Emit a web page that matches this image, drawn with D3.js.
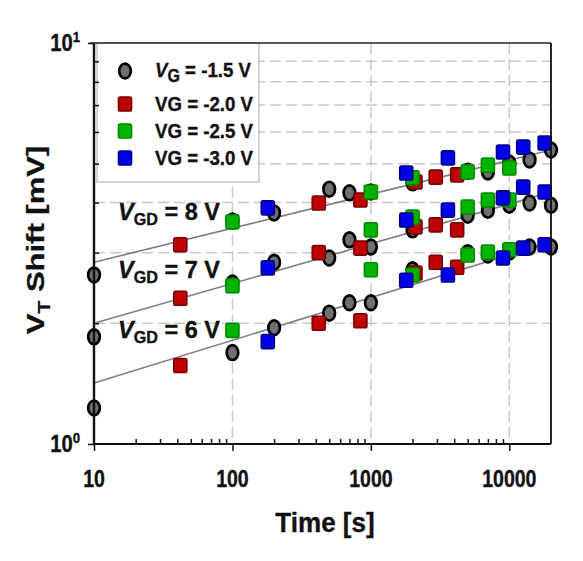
<!DOCTYPE html>
<html><head><meta charset="utf-8">
<script src="https://cdn.jsdelivr.net/npm/d3@7"></script>
<style>
body{margin:0;background:#fff}
svg{display:block}
text{font-family:"Liberation Sans",Arial,sans-serif;font-weight:bold;fill:#111;stroke:#111;stroke-width:0.35px}
</style>
</head><body>
<svg id="c" width="583" height="561"></svg>
<script>
// ---- data ----
const xTicks = [10, 100, 1000, 10000];
const xTickLabels = ["10", "100", "1000", "10000"];
const yTicks = [1, 10];
const yTickExps = ["0", "1"];
const xMinor = [20,30,40,50,60,70,80,90,200,300,400,500,600,700,800,900,2000,3000,4000,5000,6000,7000,8000,9000];
const yMinor = [2,3,4,5,6,7,8,9];
const gdLevels = ["8", "7", "6"];

const seriesNames = ["-1.5", "-2.0", "-2.5", "-3.0"];

const grayTimes = [10, 100, 200, 500, 700, 1000, 2000, 5000, 7000, 10000, 14000, 20000];
const gray8 = [2.64, 3.60, 3.77, 4.32, 4.23, 4.25, 4.48, 4.79, 4.77, 5.02, 5.11, 5.41];
const gray7 = [1.85, 2.52, 2.84, 2.91, 3.23, 3.10, 3.42, 3.72, 3.83, 3.94, 3.99, 3.94];
const gray6 = [1.23, 1.69, 1.95, 2.12, 2.25, 2.25, 2.72, 3.00, 2.96, 3.01, 3.10, 3.10];

const redTimes = [42, 420, 840, 2100, 2940, 4200];
const red8 = [3.14, 3.99, 4.06, 4.50, 4.63, 4.69];
const red7 = [2.31, 3.00, 3.08, 3.48, 3.52, 3.42];
const red6 = [1.57, 2.00, 2.03, 2.67, 2.84, 2.76];

const greenTimes = [100, 1000, 2000, 5000, 7000, 10000];
const green8 = [3.58, 4.25, 4.61, 4.77, 4.96, 4.88];
const green7 = [2.48, 3.42, 3.68, 3.90, 4.06, 4.06];
const green6 = [1.92, 2.72, 2.64, 2.96, 3.01, 3.05];

const blueTimes = [180, 1800, 3600, 9000, 12600, 18000];
const blue8 = [3.88, 4.74, 5.17, 5.35, 5.50, 5.63];
const blue7 = [2.75, 3.62, 3.83, 4.11, 4.37, 4.25];
const blue6 = [1.80, 2.56, 2.64, 2.91, 3.08, 3.14];

const fitTimes = [10, 20000];
const fit8 = [2.84, 5.41];
const fit7 = [2.00, 4.25];
const fit6 = [1.42, 3.19];

// ---- build ----
const svg = d3.select("#c");
const L = 94, R = 551, T = 43, B = 444;
const x = d3.scaleLog().domain([10, 20000]).range([L, R]);
const y = d3.scaleLog().domain([1, 10]).range([B, T]);

const styles = [
  {shape:"circle", fill:"#6f6f6f", stroke:"#000"},
  {shape:"square", fill:"#c00000", stroke:"#7a0000"},
  {shape:"square", fill:"#00b400", stroke:"#008a00"},
  {shape:"square", fill:"#0000e6", stroke:"#00008a"}
];
const seriesData = [
  {times: grayTimes, vals: [gray8, gray7, gray6]},
  {times: redTimes, vals: [red8, red7, red6]},
  {times: greenTimes, vals: [green8, green7, green6]},
  {times: blueTimes, vals: [blue8, blue7, blue6]}
];

// grid
const grid = svg.append("g").attr("stroke", "#c8c8c8").attr("stroke-width", 1.5).attr("stroke-dasharray", "11,5");
grid.selectAll("line.v").data(xTicks.slice(1)).join("line")
  .attr("x1", d => x(d)).attr("x2", d => x(d)).attr("y1", T).attr("y2", B);
grid.selectAll("line.h").data(yMinor).join("line")
  .attr("x1", L).attr("x2", R).attr("y1", d => y(d)).attr("y2", d => y(d));

// fit lines
const fits = [fit8, fit7, fit6];
const lineGen = d3.line().x((d, i) => x(fitTimes[i])).y(d => y(d));
svg.append("g").selectAll("path").data(fits).join("path")
  .attr("d", d => lineGen(d)).attr("fill", "none").attr("stroke", "#7f7f7f").attr("stroke-width", 1.6);

// legend box
svg.append("rect").attr("x", 97).attr("y", T).attr("width", 162).attr("height", 139)
  .attr("fill", "#fff").attr("stroke", "#a8a8a8").attr("stroke-width", 1);

function marker(g, st, cx, cy) {
  if (st.shape === "circle") {
    g.append("ellipse").attr("cx", cx).attr("cy", cy).attr("rx", 5.8).attr("ry", 7.4)
      .attr("fill", st.fill).attr("stroke", st.stroke).attr("stroke-width", 2.7);
  } else {
    g.append("rect").attr("x", cx - 6.5).attr("y", cy - 7).attr("width", 13).attr("height", 14)
      .attr("rx", 1.8).attr("fill", st.fill).attr("stroke", st.stroke).attr("stroke-width", 1.6);
  }
}

// data markers
const mg = svg.append("g");
seriesData.forEach((s, si) => {
  s.vals.forEach(arr => {
    arr.forEach((v, i) => marker(mg, styles[si], x(s.times[i]), y(v)));
  });
});

// axes
const ax = svg.append("g");
const xMaj = d3.axisBottom(x).tickValues(xTicks).tickSize(7).tickFormat("");
const xMin = d3.axisBottom(x).tickValues(xMinor).tickSize(-5).tickFormat("");
const yMaj = d3.axisLeft(y).tickValues(yTicks).tickSize(6).tickFormat("");
const yMin = d3.axisLeft(y).tickValues(yMinor).tickSize(-5).tickFormat("");
[ [xMaj, `translate(0,${B})`], [xMin, `translate(0,${B})`], [yMaj, `translate(${L},0)`], [yMin, `translate(${L},0)`] ]
  .forEach(([a, tr]) => {
    const g = ax.append("g").attr("transform", tr).call(a);
    g.select(".domain").remove();
    g.selectAll("line").attr("stroke", "#111").attr("stroke-width", 1.5);
  });
// frame
svg.append("line").attr("x1", L).attr("x2", R).attr("y1", B).attr("y2", B).attr("stroke", "#111").attr("stroke-width", 2.2);
svg.append("line").attr("x1", L).attr("x2", L).attr("y1", T).attr("y2", B).attr("stroke", "#111").attr("stroke-width", 2.4);
svg.append("line").attr("x1", L - 4).attr("x2", R).attr("y1", T).attr("y2", T).attr("stroke", "#222").attr("stroke-width", 1.6);
svg.append("line").attr("x1", R).attr("x2", R).attr("y1", T).attr("y2", B).attr("stroke", "#111").attr("stroke-width", 1.8);

function stext(px, py, sx, anchor, size) {
  return svg.append("text").attr("transform", `translate(${px},${py}) scale(${sx},1)`)
    .attr("text-anchor", anchor).attr("font-size", size);
}

// x tick labels
xTicks.forEach((t, i) => stext(x(t), 487, 0.85, "middle", 23).text(xTickLabels[i]));
// y tick labels
yTicks.forEach((t, i) => {
  const tx = stext(80, y(t) + 8, 0.88, "end", 23);
  tx.append("tspan").text("10");
  tx.append("tspan").attr("font-size", 15).attr("dy", -9).text(yTickExps[i]);
});

// axis titles
stext(325, 532, 0.93, "middle", 28).text("Time [s]");
const yl = svg.append("text").attr("transform", "translate(44,240) scale(0.8,1) rotate(-90)")
  .attr("text-anchor", "middle").attr("font-size", 31);
yl.append("tspan").text("V");
yl.append("tspan").attr("font-size", 21).attr("dy", 7).text("T");
yl.append("tspan").attr("dy", -7).text(" Shift [mV]");

// legend entries
const legY = [71, 104, 131, 158];
const legBase = [77, 111, 138, 165];
seriesNames.forEach((n, i) => {
  marker(svg, styles[i], 125, legY[i]);
  const t = stext(155, legBase[i], 0.89, "start", 21);
  if (i === 0) {
    t.append("tspan").attr("font-style", "italic").text("V");
    t.append("tspan").attr("font-size", 18).attr("dy", 5).text("G");
    t.append("tspan").attr("dy", -5).text(" = " + n + " V");
  } else {
    t.text("VG = " + n + " V");
  }
});

// VGD labels
const gdBase = [220, 278, 338];
gdLevels.forEach((g, i) => {
  const t = stext(118, gdBase[i], 0.98, "start", 24);
  t.append("tspan").attr("font-style", "italic").text("V");
  t.append("tspan").attr("font-size", 16.5).attr("dy", 5).text("GD");
  t.append("tspan").attr("dy", -5).text(" = " + g + " V");
});
</script>
</body></html>
